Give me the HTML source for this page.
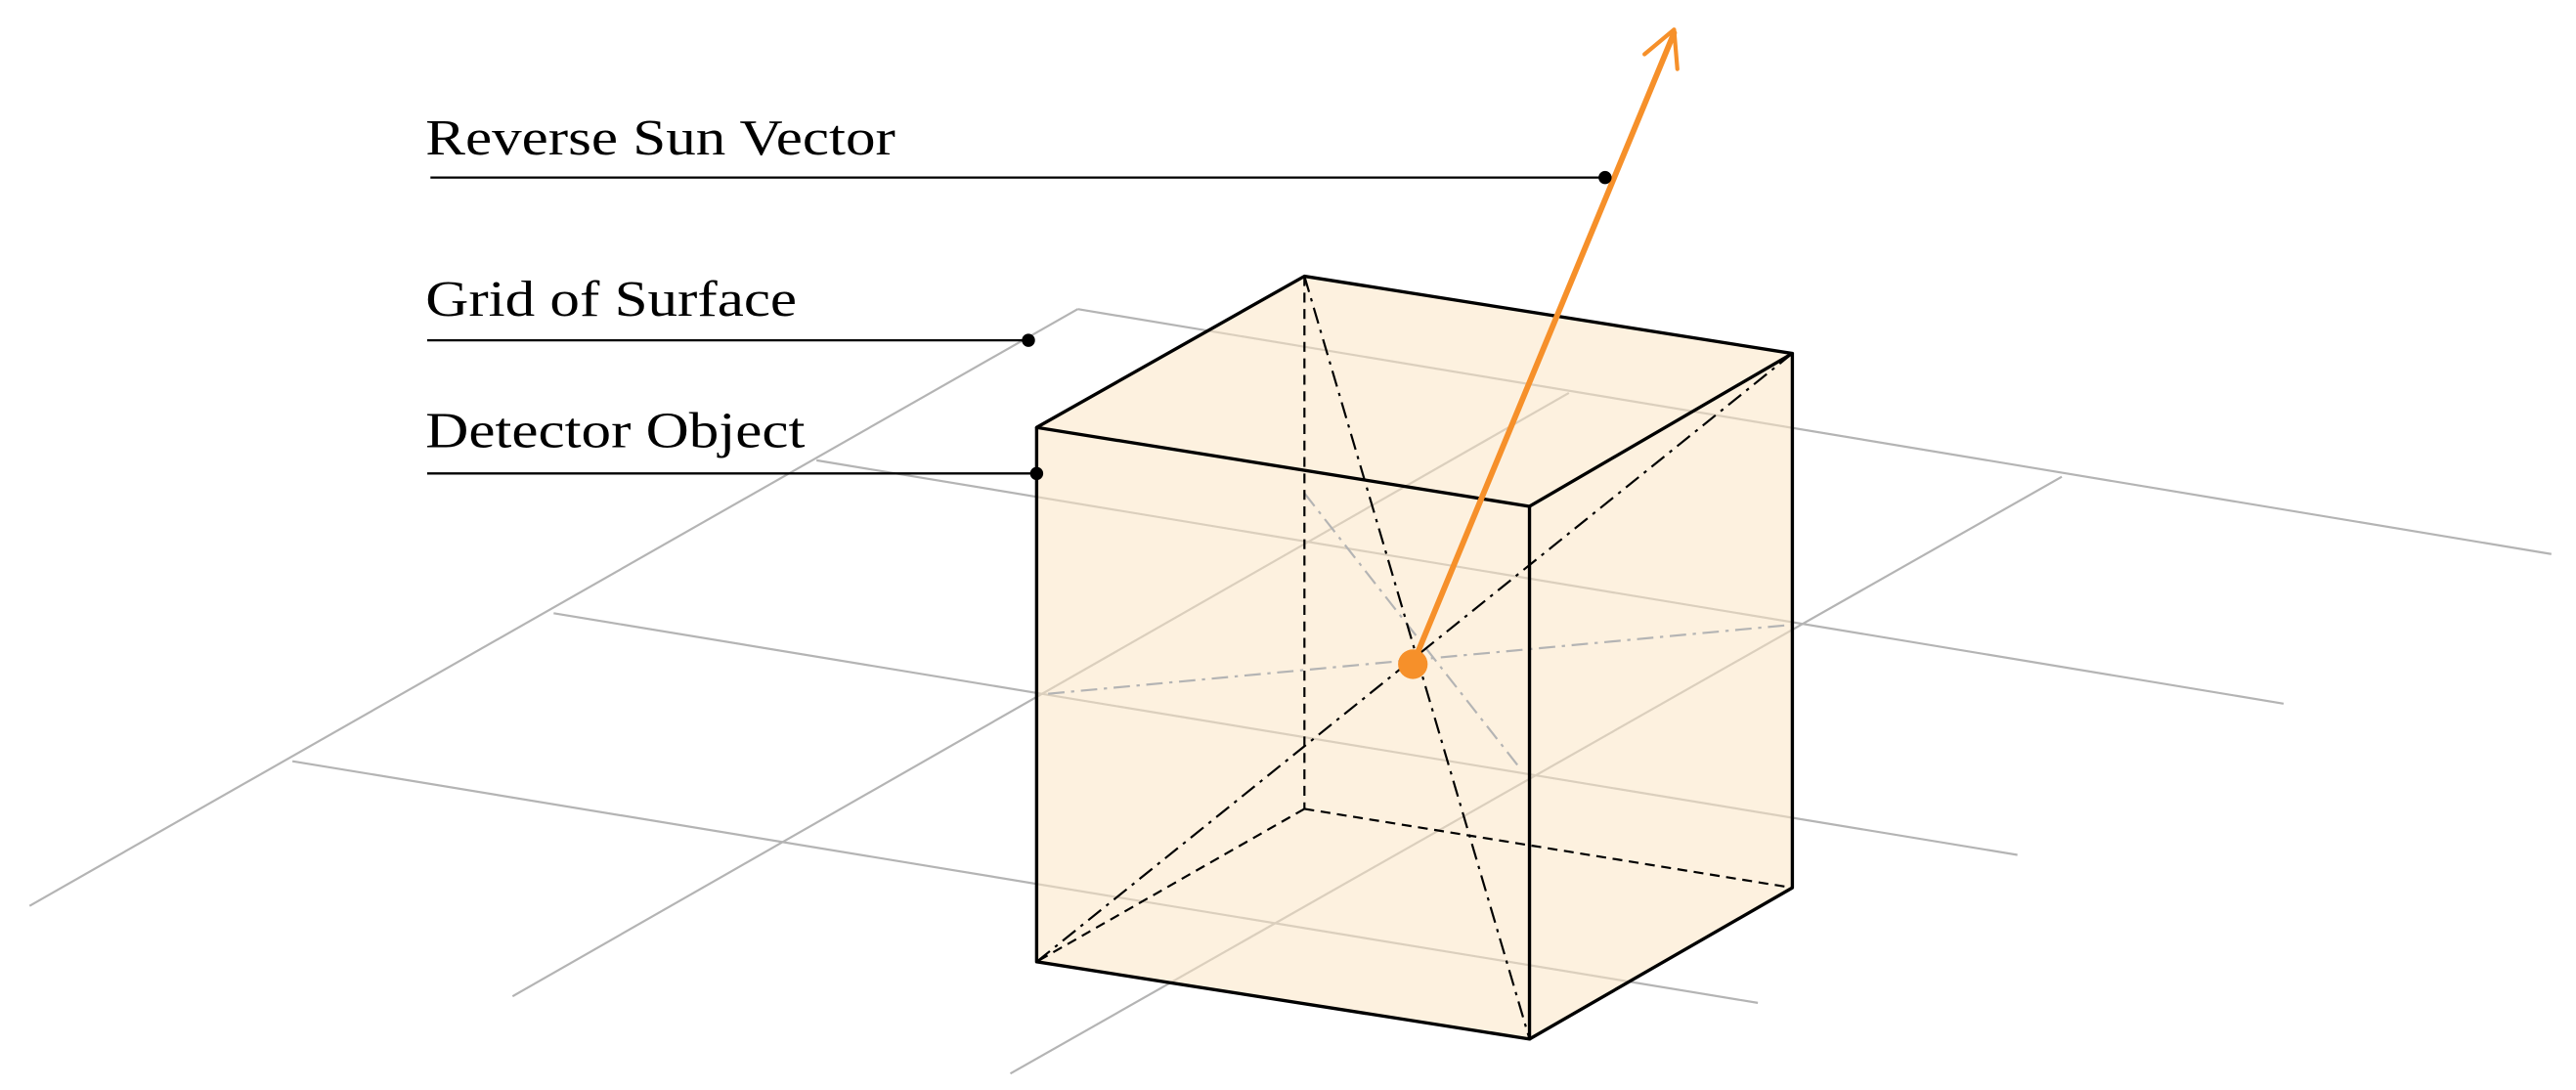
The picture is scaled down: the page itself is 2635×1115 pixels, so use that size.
<!DOCTYPE html>
<html><head><style>html,body{margin:0;padding:0;background:#fff;}svg{display:block}</style></head>
<body>
<svg width="2635" height="1115" viewBox="0 0 1568 663" preserveAspectRatio="none" xmlns="http://www.w3.org/2000/svg">
<g stroke="#b4b4b4" stroke-width="1.3" fill="none">
<line x1="656" y1="188" x2="18" y2="551"/>
<line x1="955" y1="239" x2="312" y2="606"/>
<line x1="1255" y1="290" x2="615" y2="653"/>
<line x1="656" y1="188" x2="1553" y2="337"/>
<line x1="497" y1="280" x2="1390" y2="428"/>
<line x1="337" y1="373" x2="1228" y2="520"/>
<line x1="178" y1="463" x2="1070" y2="610"/>
</g>
<polygon points="631,260 794,168 1091,215 1091,540 931,632 631,585" fill="#fbe6c4" fill-opacity="0.55"/>
<g stroke="#b4b4b4" stroke-width="1.3" fill="none" stroke-dasharray="10,4,2,4">
<line x1="638" y1="422" x2="1091" y2="380"/>
<line x1="794" y1="300" x2="925" y2="467"/>
</g>
<g stroke="#000" stroke-width="1.3" fill="none" stroke-dasharray="6,4">
<line x1="794" y1="168" x2="794" y2="492"/>
<line x1="794" y1="492" x2="1091" y2="540"/>
<line x1="794" y1="492" x2="631" y2="585"/>
</g>
<g stroke="#000" stroke-width="1.3" fill="none" stroke-dasharray="10,4,2,4">
<line x1="794" y1="168" x2="931" y2="632"/>
<line x1="1091" y1="215" x2="631" y2="585"/>
</g>
<g stroke="#000" stroke-width="2" fill="none" stroke-linejoin="round">
<polygon points="631,260 794,168 1091,215 931,308"/>
<polyline points="631,260 631,585 931,632 931,308"/>
<polyline points="1091,215 1091,540 931,632"/>
</g>
<g stroke="#000" stroke-width="1.4">
<line x1="262" y1="108" x2="977" y2="108"/>
<line x1="260" y1="207" x2="626" y2="207"/>
<line x1="260" y1="288" x2="631" y2="288"/>
</g>
<line x1="860" y1="404" x2="1019" y2="20" stroke="#f6902a" stroke-width="3.5" stroke-linecap="round"/>
<polyline points="1001,33 1019,18 1021,42" fill="none" stroke="#f6902a" stroke-width="2.5" stroke-linecap="round" stroke-linejoin="round"/>
<circle cx="860" cy="404" r="9" fill="#f6902a"/>
<g fill="#000">
<circle cx="977" cy="108" r="4"/>
<circle cx="626" cy="207" r="4"/>
<circle cx="631" cy="288" r="4"/>
</g>
<g font-family="Liberation Serif, serif" font-size="31" fill="#000">
<text x="259" y="94" textLength="286" lengthAdjust="spacingAndGlyphs">Reverse Sun Vector</text>
<text x="259" y="192" textLength="226" lengthAdjust="spacingAndGlyphs">Grid of Surface</text>
<text x="259" y="272" textLength="231" lengthAdjust="spacingAndGlyphs">Detector Object</text>
</g>
</svg>
</body></html>
